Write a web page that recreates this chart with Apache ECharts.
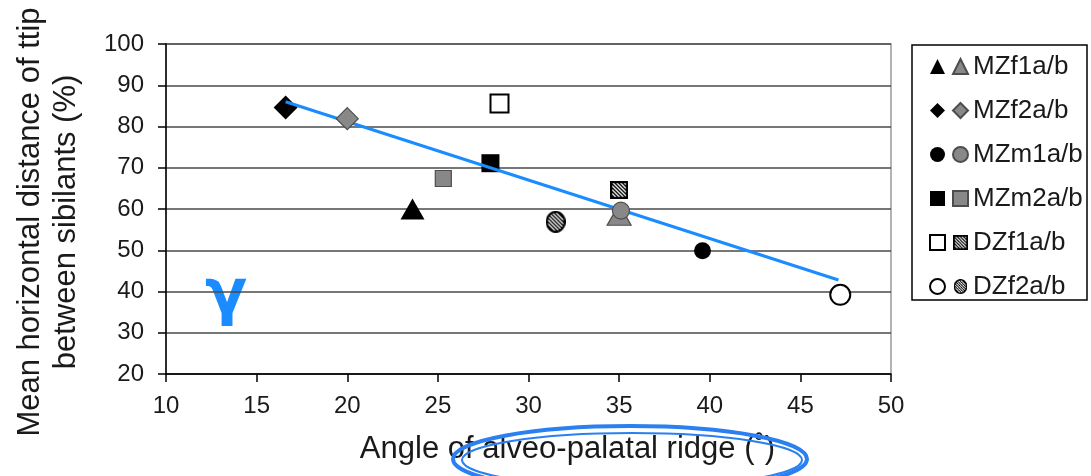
<!DOCTYPE html>
<html>
<head>
<meta charset="utf-8">
<script src="https://cdn.jsdelivr.net/npm/echarts@6/dist/echarts.min.js"></script>
<style>
  html, body { margin: 0; padding: 0; background: #fff; }
  #chart { width: 1091px; height: 476px; }
</style>
</head>
<body>
<div id="chart"></div>
<script>
// groups shown in the legend, each has an "a" (black) and "b" (grey) speaker
const groups = ['MZf1', 'MZf2', 'MZm1', 'MZm2', 'DZf1', 'DZf2'];
const symbols = ['triangle', 'diamond', 'circle', 'rect', 'rect', 'circle'];

// [angle of alveo-palatal ridge, mean horizontal distance]
const pointsA = [[23.6, 60], [16.6, 84.6], [39.6, 49.9], [27.9, 71.1], [28.4, 85.6], [47.2, 39.2]];
const pointsB = [[35.0, 58.6], [20.0, 81.9], [35.1, 59.6], [25.3, 67.4], [35.0, 64.6], [31.5, 56.9]];

// fitted trend line end points
const trend = [[16.6, 86.0], [47.1, 42.8]];

const xTicks = [10, 50, 5];
const yTicks = [20, 100, 10];

const textColor = '#1a1a1a';
const blue = '#1a8cff';
const font = 'Liberation Sans, Arial, sans-serif';

// hatched marker drawn once on a canvas, used as an image symbol
function hatchSymbol(w, h, round) {
    const s = 4;
    const c = document.createElement('canvas');
    c.width = w * s;
    c.height = h * s;
    const ctx = c.getContext('2d');
    ctx.scale(s, s);
    const outline = () => {
        ctx.beginPath();
        if (round) {
            ctx.ellipse(w / 2, h / 2, w / 2 - 1.1, h / 2 - 1.1, 0, 0, Math.PI * 2);
        } else {
            ctx.rect(1.1, 1.1, w - 2.2, h - 2.2);
        }
    };
    outline();
    ctx.fillStyle = '#000';
    ctx.fill();
    ctx.save();
    ctx.clip();
    ctx.strokeStyle = '#fff';
    ctx.lineWidth = 1.3;
    for (let k = -h; k < w + h; k += 3.8) {
        ctx.beginPath();
        ctx.moveTo(k, 0);
        ctx.lineTo(k + h, h);
        ctx.stroke();
    }
    ctx.restore();
    outline();
    ctx.lineWidth = 2.2;
    ctx.strokeStyle = '#000';
    ctx.stroke();
    return 'image://' + c.toDataURL();
}

const symbolsB = symbols.slice();
symbolsB[4] = hatchSymbol(18, 18, false);
symbolsB[5] = hatchSymbol(20, 22, true);

const styleA = [
    { color: '#000', opacity: 1 },
    { color: '#000', opacity: 1 },
    { color: '#000', opacity: 1 },
    { color: '#000', opacity: 1 },
    { color: '#fff', borderColor: '#000', borderWidth: 2, opacity: 1 },
    { color: '#fff', borderColor: '#000', borderWidth: 2, opacity: 1 }
];
const styleB = [
    { color: '#888', borderColor: '#4d4d4d', borderWidth: 1.2, opacity: 1 },
    { color: '#888', borderColor: '#4d4d4d', borderWidth: 1.2, opacity: 1 },
    { color: '#888', borderColor: '#4d4d4d', borderWidth: 1.2, opacity: 1 },
    { color: '#888', borderColor: '#4d4d4d', borderWidth: 1.2, opacity: 1 },
    { color: '#000', opacity: 1 },
    { color: '#000', opacity: 1 }
];
const sizesA = [[24, 21], 24, 17, [18, 18], [18, 18], 20];
const sizesB = [[24, 21], 22, 17, [16, 16], [18, 18], [20, 22]];

const series = [
    {
        name: 'trend',
        type: 'line',
        data: trend,
        symbol: 'none',
        lineStyle: { color: blue, width: 3 },
        z: 3,
        silent: true
    }
];
groups.forEach((g, i) => {
    series.push({
        name: g + 'a',
        type: 'scatter',
        data: [pointsA[i]],
        symbol: symbols[i],
        symbolSize: sizesA[i],
        itemStyle: styleA[i],
        z: 2
    });
    series.push({
        name: g + 'b',
        type: 'scatter',
        data: [pointsB[i]],
        symbol: symbolsB[i],
        symbolSize: sizesB[i],
        itemStyle: styleB[i],
        z: 4
    });
});

const legendBase = {
    orient: 'vertical',
    top: 46,
    itemWidth: 15,
    itemHeight: 15,
    itemGap: 13,
    selectedMode: false,
    textStyle: { fontFamily: font, fontSize: 26, color: textColor, lineHeight: 31 }
};

const option = {
    backgroundColor: '#fff',
    animation: false,
    grid: {
        left: 166,
        right: 200,
        top: 44,
        bottom: 102,
        containLabel: false,
        outerBoundsMode: 'none',
        show: true,
        borderColor: '#9a9a9a',
        borderWidth: 1.5
    },
    legend: [
        Object.assign({}, legendBase, {
            left: 924,
            data: groups.map(g => g + 'a'),
            formatter: () => ' '
        }),
        Object.assign({}, legendBase, {
            left: 947,
            data: groups.map(g => g + 'b'),
            formatter: name => name.slice(0, -1) + 'a/b'
        })
    ],
    xAxis: {
        type: 'value',
        min: xTicks[0],
        max: xTicks[1],
        interval: xTicks[2],
        name: 'Angle of alveo-palatal ridge (\u02da)',
        nameLocation: 'middle',
        nameGap: 60,
        nameTextStyle: { fontFamily: font, fontSize: 31, color: textColor, padding: [0, 0, 0, 78] },
        axisLine: { lineStyle: { color: '#000', width: 1.5 } },
        axisTick: { length: 8, lineStyle: { color: '#000', width: 1.5 } },
        axisLabel: { fontFamily: font, fontSize: 24, color: textColor, margin: 20 },
        splitLine: { show: false }
    },
    yAxis: {
        type: 'value',
        min: yTicks[0],
        max: yTicks[1],
        interval: yTicks[2],
        name: 'Mean horizontal distance of ttip\nbetween sibilants (%)',
        nameLocation: 'middle',
        nameGap: 82,
        nameTextStyle: { fontFamily: font, fontSize: 31, color: textColor, lineHeight: 36, padding: [0, 26, 0, 0] },
        axisLine: { show: true, lineStyle: { color: '#000', width: 1.5 } },
        axisTick: { show: true, length: 8, lineStyle: { color: '#000', width: 1.5 } },
        axisLabel: { fontFamily: font, fontSize: 24, color: textColor, margin: 22 },
        splitLine: { lineStyle: { color: '#4a4a4a', width: 1.5 } }
    },
    graphic: [
        {
            type: 'rect',
            shape: { x: 912, y: 45, width: 175, height: 255 },
            style: { fill: 'none', stroke: '#000', lineWidth: 1.5 },
            z: -1
        },
        {
            type: 'text',
            left: 205,
            top: 266,
            style: { text: '\u03b3', fontFamily: 'DejaVu Sans', fontWeight: 'bold', fontSize: 62, fill: blue }
        },
        {
            type: 'ellipse',
            shape: { cx: 630, cy: 459, rx: 177, ry: 33 },
            style: { fill: 'none', stroke: '#2a80f0', lineWidth: 4 },
            z: 10
        },
        {
            type: 'ellipse',
            shape: { cx: 632, cy: 460, rx: 170, ry: 27 },
            style: { fill: 'none', stroke: '#2a80f0', lineWidth: 2 },
            z: 10
        }
    ],
    series
};

const myChart = echarts.init(document.getElementById('chart'), null, { renderer: 'canvas' });
myChart.setOption(option);
</script>
</body>
</html>
